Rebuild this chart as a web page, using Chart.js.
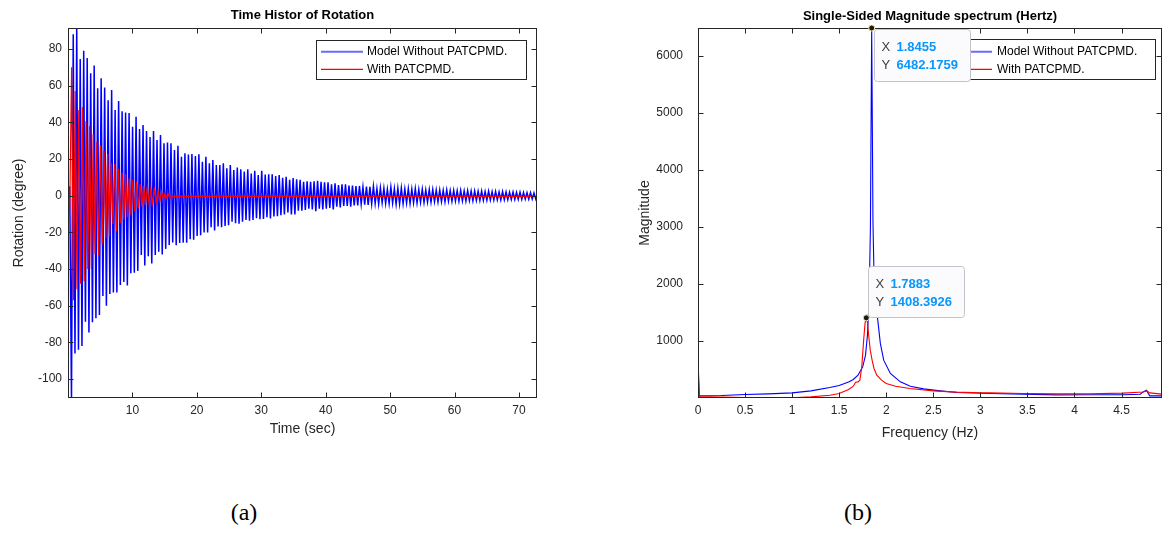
<!DOCTYPE html>
<html>
<head>
<meta charset="utf-8">
<script src="https://cdn.jsdelivr.net/npm/chart.js@4.4.1/dist/chart.umd.min.js"></script>
<style>
  html, body { margin: 0; padding: 0; background: #fff; }
  body { width: 1163px; height: 533px; position: relative; overflow: hidden; }
  canvas { position: absolute; top: 0; }
  #left { left: 0; }
  #right { left: 581px; }
  .cap { position: absolute; top: 500px; font-family: 'Liberation Serif', 'Times New Roman', serif; font-size: 24px; line-height: 24px; color: #000; transform: translateX(-50%); }
</style>
</head>
<body>
<canvas id="left" width="581" height="450"></canvas>
<canvas id="right" width="582" height="450"></canvas>
<div class="cap" style="left:244px">(a)</div>
<div class="cap" style="left:858px">(b)</div>
<script>
// ---- (a) time history, peaks read cycle by cycle off the plot ----
const timeTicks = [10, 20, 30, 40, 50, 60, 70];
const rotTicks = [-100, -80, -60, -40, -20, 0, 20, 40, 60, 80];

// blue: model without PATCPMD, sampled every half period (1.8455 Hz)
const blueHalfStep = 0.2709;
const blueStart = [0, 5];
const blueLows = [
  -110.3, -86, -84, -82, -68.7, -74.6, -69, -66.8, -65, -54.7,
  -60, -53.6, -52.8, -52.8, -48.7, -47, -49, -42.3, -42, -41,
  -32.3, -38, -33, -37, -32.3, -30.5, -32, -29, -26.9, -25.5,
  -27, -25.8, -25.6, -25.6, -23.8, -24, -22, -21.6, -20.1, -20.1,
  -17.2, -19, -16.8, -17.2, -16.5, -16.1, -14.2, -15, -15.3, -14.2,
  -13.2, -13.6, -13.2, -12.3,
  -12.9, -12.7, -11.8, -12.5, -11.4, -11.2, -10.6, -10.2, -9.2, -10.2,
  -10.2, -8.2, -8.2, -7.8, -7.1, -7.5, -8.5, -7.1, -7.5, -7.1,
  -6.7, -7.5, -6.0, -6.4, -5.6, -5.6, -6.0, -5.3, -5.3, -4.5,
  -4.9, -5.1, -4.5, -4.2, -4.5, -3.8, -4.2, -4.2, -4.0,
  -4.7, -4.4, -4.3, -4.0, -4.2, -3.8, -3.9, -3.6, -3.7, -3.4,
  -3.5, -3.3, -3.4, -3.2, -3.3, -3.0, -3.1, -2.9, -3.0, -2.8,
  -2.9, -2.7, -2.8, -2.6, -2.6, -2.5, -2.5, -2.4, -2.4, -2.3,
  -2.3, -2.2, -2.2, -2.1, -2.1, -2.0, -2.0, -1.9, -1.9, -1.8, -1.8
];
const blueHighs = [
  88, 91.4, 74.5, 79, 75, 66.7, 71, 58.5, 64, 59,
  52, 57.6, 46.7, 51.6, 46, 45.4, 45, 37.6, 43, 36.3,
  38.5, 35.2, 32, 35.2, 30.4, 33, 28.5, 29, 28.5, 24.9,
  27.2, 21.2, 23.1, 22.5, 22.7, 21.6, 22.5, 18.5, 21.2, 17.6,
  19.4, 16.7, 16.7, 17.6, 14.9, 16.7, 14, 15.3, 14.4, 13.2,
  14.4, 12, 13.6, 11.3,
  13.5, 11.5, 11.6, 11.6, 10.7, 11.2, 9.8, 10.3, 8.7, 9.6,
  8.9, 8.6, 7.5, 7.9, 7.5, 7.9, 8.1, 7.5, 7.3, 7.3,
  6.2, 6.7, 5.8, 6.2, 6.2, 5.5, 5.5, 5.3, 5.3, 4.6,
  5.0, 4.8, 5.0, 3.8, 4.2, 4.0, 3.5, 4.6, 3.8,
  4.0, 4.2, 3.6, 3.8, 3.5, 3.8, 3.3, 3.5, 3.1, 3.3,
  3.3, 3.0, 3.1, 2.9, 3.1, 2.7, 2.9, 2.7, 2.9, 2.6,
  2.7, 2.5, 2.6, 2.4, 2.5, 2.2, 2.4, 2.2, 2.3, 2.0,
  2.2, 2.0, 1.9, 2.0, 1.8, 1.9, 1.7, 1.6, 1.7, 1.5, 1.3
];

// red: with PATCPMD, sampled every half period (1.7883 Hz), then flat
const redHalfStep = 0.2796;
const redStart = [0, -5];
const redHighs = [
  70, 57, 46.7, 48.2, 40.5, 38, 33.6, 29.4, 27.5, 24.5,
  22.7, 17.6, 17.3, 14.7, 12.5, 11.7, 9.5, 8.6, 7.5, 6.2,
  5.2, 4.6, 4.0, 3.2, 2.5, 2.0, 1.5, 1.0
];
const redLows = [
  -57, -51, -48, -46.6, -40, -40, -31.8, -32.4, -26.6, -23,
  -22.3, -15.4, -19.4, -15, -13, -11.8, -10.7, -8.5, -7, -6,
  -5, -4.6, -4.0, -3.4, -2.8, -2.0, -1.6, -1.2
];
const redTailTime = [16.4, 72.8];
const redTailValue = [-0.4, -0.4];

// ---- (b) single-sided spectrum ----
const freqTicks = [0, 0.5, 1, 1.5, 2, 2.5, 3, 3.5, 4, 4.5];
const magTicks = [1000, 2000, 3000, 4000, 5000, 6000];

const blueFreq = [0, 0.014, 0.25, 0.5, 0.75, 1.0, 1.2, 1.4, 1.5, 1.6, 1.65, 1.7, 1.75, 1.78, 1.8, 1.818, 1.832, 1.8455, 1.859, 1.873, 1.902, 1.937, 1.973, 2.044, 2.15, 2.256, 2.397, 2.574, 2.75, 3.104, 3.457, 3.81, 4.164, 4.517, 4.7, 4.729, 4.764, 4.8, 4.93];
const blueMag = [680, 45, 50, 66, 78, 95, 130, 189, 224, 287, 330, 405, 550, 755, 1100, 1700, 3000, 6482.1759, 3100, 1900, 1490, 965, 668, 434, 288, 212, 165, 130, 101, 84, 72, 60, 62, 62, 70, 112, 142, 42, 42];

const redFreq = [0, 0.014, 0.25, 0.5, 0.75, 1.0, 1.2, 1.4, 1.5, 1.6, 1.65, 1.675, 1.7, 1.72, 1.74, 1.76, 1.775, 1.7883, 1.8, 1.815, 1.83, 1.85, 1.87, 1.9, 1.95, 2.0, 2.1, 2.25, 2.5, 2.75, 3.0, 3.104, 3.457, 3.81, 4.164, 4.517, 4.729, 4.77, 4.8, 4.93];
const redMag = [560, 30, 20, 15, 8, 8, 25, 54, 84, 154, 212, 280, 287, 317, 550, 1018, 1316, 1408.3926, 1330, 1076, 843, 668, 522, 405, 317, 259, 212, 172, 130, 107, 98, 95, 84, 78, 80, 90, 110, 130, 95, 72];

// data tips
const tipX = [1.8455, 1.7883];
const tipY = [6482.1759, 1408.3926];
const tipXText = ['1.8455', '1.7883'];
const tipYText = ['6482.1759', '1408.3926'];

const FONT = "'Liberation Sans', Arial, Helvetica, sans-serif";
const AXIS = '#262626';

function zigzag(start, first, second, step) {
    const ys = start.slice();
    const n = Math.min(first.length, second.length);
    for (let i = 0; i < n; i++) ys.push(first[i], second[i]);
    return ys.map((y, i) => ({ x: i * step, y: y }));
}

function pairs(xs, ys) {
    return xs.map((x, i) => ({ x: x, y: ys[i] }));
}

const bluePts = zigzag(blueStart, blueLows, blueHighs, blueHalfStep);
const redPts = zigzag(redStart, redHighs, redLows, redHalfStep).concat(pairs(redTailTime, redTailValue));

function matlabFrame(cfg) {
    return {
        id: 'matlabFrame',
        afterDraw(chart) {
            const ctx = chart.ctx;
            const a = chart.chartArea;
            const sx = chart.scales.x, sy = chart.scales.y;
            const ox = cfg.ox;
            const L = Math.round(a.left) + 0.5, R = Math.round(a.right) - 0.5;
            const T = Math.round(a.top) + 0.5, B = Math.round(a.bottom) - 0.5;

            ctx.save();
            ctx.strokeStyle = AXIS;
            ctx.lineWidth = 1;
            ctx.beginPath();
            cfg.xTicks.forEach(v => {
                const p = Math.round(sx.getPixelForValue(v)) + 0.5;
                ctx.moveTo(p, B); ctx.lineTo(p, B - 5);
                ctx.moveTo(p, T); ctx.lineTo(p, T + 5);
            });
            cfg.yTicks.forEach(v => {
                const p = Math.round(sy.getPixelForValue(v)) + 0.5;
                ctx.moveTo(L, p); ctx.lineTo(L + 5, p);
                ctx.moveTo(R, p); ctx.lineTo(R - 5, p);
            });
            ctx.stroke();
            ctx.strokeRect(L, T, R - L, B - T);

            // title and axis labels
            ctx.textAlign = 'center';
            ctx.textBaseline = 'middle';
            ctx.fillStyle = '#000';
            ctx.font = 'bold 13px ' + FONT;
            ctx.fillText(cfg.title, (a.left + a.right) / 2, cfg.titleY);
            ctx.fillStyle = AXIS;
            ctx.font = '14px ' + FONT;
            ctx.fillText(cfg.xLabel, (a.left + a.right) / 2, cfg.xLabelY);
            ctx.save();
            ctx.translate(cfg.yLabelX - ox, (a.top + a.bottom) / 2);
            ctx.rotate(-Math.PI / 2);
            ctx.fillText(cfg.yLabel, 0, 0);
            ctx.restore();

            // legend
            const lg = cfg.legend;
            ctx.fillStyle = '#fff';
            ctx.fillRect(lg.x - ox, lg.y, lg.w, lg.h);
            ctx.strokeStyle = AXIS;
            ctx.lineWidth = 1;
            ctx.strokeRect(lg.x - ox + 0.5, lg.y + 0.5, lg.w, lg.h);
            ctx.textAlign = 'left';
            ctx.font = '12px ' + FONT;
            lg.items.forEach((it, i) => {
                const y = lg.rows[i];
                ctx.strokeStyle = it.color;
                ctx.lineWidth = it.width;
                ctx.beginPath();
                ctx.moveTo(lg.lineX0 - ox, y);
                ctx.lineTo(lg.lineX1 - ox, y);
                ctx.stroke();
                ctx.fillStyle = '#000';
                ctx.fillText(it.label, lg.textX - ox, y);
            });

            // data tips
            (cfg.tips || []).forEach(tp => {
                const px = sx.getPixelForValue(tp.x), py = sy.getPixelForValue(tp.y);
                const bx = Math.round(px + tp.dx) + 0.5, by = Math.round(py + tp.dy) + 0.5;
                ctx.beginPath();
                ctx.roundRect(bx, by, tp.w, tp.h, 3);
                ctx.fillStyle = '#fbfbfd';
                ctx.fill();
                ctx.strokeStyle = '#c3c3c8';
                ctx.lineWidth = 1;
                ctx.stroke();
                ctx.textAlign = 'left';
                ctx.fillStyle = '#404040';
                ctx.font = '13px ' + FONT;
                ctx.fillText('X', bx + 7, by + 17.5);
                ctx.fillText('Y', bx + 7, by + 36);
                ctx.fillStyle = '#0a96fa';
                ctx.font = 'bold 13px ' + FONT;
                ctx.fillText(tp.xText, bx + 22, by + 17.5);
                ctx.fillText(tp.yText, bx + 22, by + 36);
                ctx.beginPath();
                ctx.arc(px, py, 3, 0, Math.PI * 2);
                ctx.fillStyle = '#1a1a1a';
                ctx.fill();
                ctx.strokeStyle = '#efe3a8';
                ctx.stroke();
            });
            ctx.restore();
        }
    };
}

function axisOpts(min, max, ticks, fitSize, isX, pad) {
    return {
        type: 'linear',
        min: min,
        max: max,
        afterBuildTicks: s => { s.ticks = ticks.map(v => ({ value: v })); },
        afterFit: s => { if (isX) s.height = fitSize; else s.width = fitSize; },
        grid: { display: false, drawTicks: false },
        border: { display: false },
        ticks: {
            autoSkip: false,
            maxRotation: 0,
            padding: pad,
            color: AXIS,
            font: { family: FONT, size: 12 },
            callback: v => String(v)
        }
    };
}

const legendItems = [
    { label: 'Model Without PATCPMD.', color: '#6a6aff', width: 2 },
    { label: 'With PATCPMD.', color: '#ff0000', width: 1.2 }
];

new Chart(document.getElementById('left'), {
    type: 'line',
    data: {
        datasets: [
            { label: 'With PATCPMD.', data: redPts, borderColor: '#ff0000', borderWidth: 1.2, pointRadius: 0, tension: 0 },
            { label: 'Model Without PATCPMD.', data: bluePts, borderColor: '#0000ff', borderWidth: 1.5, pointRadius: 0, tension: 0 }
        ]
    },
    options: {
        responsive: false,
        animation: false,
        layout: { padding: { left: 0, top: 28, right: 44, bottom: 0 } },
        plugins: { legend: { display: false }, tooltip: { enabled: false } },
        scales: {
            x: axisOpts(0, 72.8, timeTicks, 52, true, 5),
            y: axisOpts(-110.3, 91.4, rotTicks, 68, false, 6)
        }
    },
    plugins: [matlabFrame({
        ox: 0,
        xTicks: timeTicks, yTicks: rotTicks,
        title: 'Time Histor of Rotation', titleY: 15.5,
        xLabel: 'Time (sec)', xLabelY: 429,
        yLabel: 'Rotation (degree)', yLabelX: 19,
        legend: { x: 316, y: 40, w: 210, h: 39, lineX0: 321, lineX1: 363, textX: 367, rows: [51.7, 69.3], items: legendItems }
    })]
});

new Chart(document.getElementById('right'), {
    type: 'line',
    data: {
        datasets: [
            { label: 'With PATCPMD.', data: pairs(redFreq, redMag), borderColor: '#ff0000', borderWidth: 1.1, pointRadius: 0, tension: 0 },
            { label: 'Model Without PATCPMD.', data: pairs(blueFreq, blueMag), borderColor: '#0000ff', borderWidth: 1.1, pointRadius: 0, tension: 0 }
        ]
    },
    options: {
        responsive: false,
        animation: false,
        layout: { padding: { left: 0, top: 28, right: 1, bottom: 0 } },
        plugins: { legend: { display: false }, tooltip: { enabled: false } },
        scales: {
            x: axisOpts(0, 4.93, freqTicks, 52, true, 5),
            y: axisOpts(5, 6482.1759, magTicks, 117, false, 15)
        }
    },
    plugins: [matlabFrame({
        ox: 581,
        xTicks: freqTicks, yTicks: magTicks,
        title: 'Single-Sided Magnitude spectrum (Hertz)', titleY: 16,
        xLabel: 'Frequency (Hz)', xLabelY: 433,
        yLabel: 'Magnitude', yLabelX: 645,
        legend: { x: 945, y: 39, w: 210, h: 40, lineX0: 950, lineX1: 992, textX: 997, rows: [51.7, 69.3], items: legendItems },
        tips: [
            { x: tipX[0], y: tipY[0], xText: tipXText[0], yText: tipYText[0], dx: 2, dy: 1, w: 96, h: 52 },
            { x: tipX[1], y: tipY[1], xText: tipXText[1], yText: tipYText[1], dx: 2, dy: -52, w: 96, h: 51 }
        ]
    })]
});
</script>
</body>
</html>
